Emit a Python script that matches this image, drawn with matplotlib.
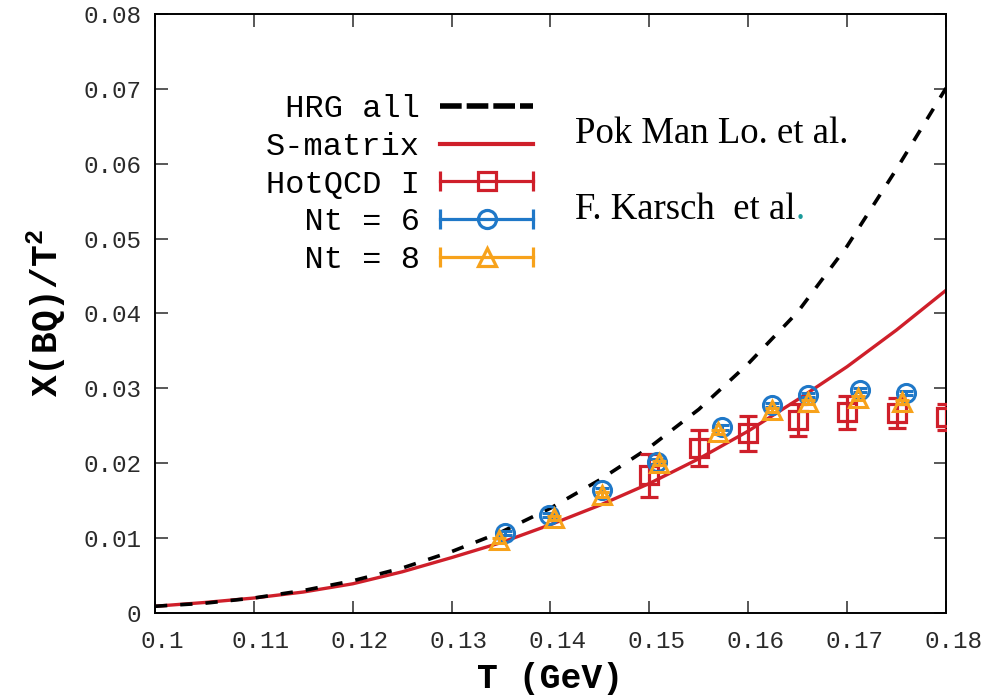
import matplotlib
matplotlib.use("Agg")
import matplotlib.pyplot as plt
import matplotlib.transforms as mtransforms
from matplotlib.lines import Line2D
from matplotlib.legend_handler import HandlerLine2D, HandlerTuple

plt.rcParams['font.family'] = ['Liberation Mono', 'DejaVu Sans Mono']
plt.rcParams['mathtext.fontset'] = 'custom'
plt.rcParams['mathtext.bf'] = 'Liberation Mono:bold'
plt.rcParams['mathtext.rm'] = 'Liberation Mono'

# HRG (all states) and S-matrix curves, chi_BQ / T^2 vs T
t_curve = [0.100, 0.105, 0.110, 0.115, 0.120, 0.125, 0.130, 0.135, 0.140,
           0.145, 0.150, 0.155, 0.160, 0.165, 0.170, 0.175, 0.180]
hrg_all = [0.0009, 0.0013, 0.0020, 0.0030, 0.0043, 0.0060, 0.0082, 0.0108, 0.0140,
           0.0178, 0.0221, 0.0272, 0.0333, 0.0402, 0.0490, 0.0593, 0.0701]
s_matrix = [0.0009, 0.0014, 0.0020, 0.0028, 0.0039, 0.0055, 0.0074, 0.0094, 0.0118,
            0.0144, 0.0173, 0.0206, 0.0243, 0.0285, 0.0329, 0.0378, 0.0431]

# HotQCD I lattice points
t_hot = [0.150, 0.155, 0.160, 0.165, 0.170, 0.175, 0.180]
chi_hot = [0.0184, 0.0220, 0.0240, 0.0258, 0.0268, 0.0267, 0.0262]
err_hot = [0.0029, 0.0024, 0.0023, 0.0021, 0.0022, 0.0020, 0.0017]

# Nt = 6
t_nt6 = [0.1354, 0.1398, 0.1452, 0.1508, 0.1573, 0.1624, 0.1660, 0.1713, 0.1760]
chi_nt6 = [0.0107, 0.0131, 0.0164, 0.0202, 0.0248, 0.0278, 0.0291, 0.0298, 0.0294]
err_nt6 = [0.0003, 0.0003, 0.0003, 0.0003, 0.0003, 0.0003, 0.0003, 0.0003, 0.0003]

# Nt = 8
t_nt8 = [0.1348, 0.1404, 0.1452, 0.1510, 0.1569, 0.1624, 0.1660, 0.1711, 0.1756]
chi_nt8 = [0.0097, 0.0127, 0.0158, 0.0200, 0.0242, 0.0271, 0.0282, 0.0287, 0.0282]
err_nt8 = [0.0003, 0.0003, 0.0003, 0.0003, 0.0003, 0.0003, 0.0003, 0.0003, 0.0003]

x_ticks = [0.10, 0.11, 0.12, 0.13, 0.14, 0.15, 0.16, 0.17, 0.18]
y_ticks = [0.0, 0.01, 0.02, 0.03, 0.04, 0.05, 0.06, 0.07, 0.08]

RED = '#cf1f2a'
BLUE = '#1f78c8'
ORANGE = '#f7a21b'

fig = plt.figure(figsize=(9.98, 7.0), dpi=100)
ax = fig.add_axes([0.1553, 0.1243, 0.7926, 0.8557])

ax.plot(t_curve, s_matrix, color=RED, lw=2.4, zorder=2)
ax.plot(t_curve, hrg_all, color='black', lw=2.6, dashes=(3.4, 3.6), zorder=3)

ax.errorbar(t_hot, chi_hot, yerr=err_hot, fmt='s', ms=13.5, mfc='none', mec=RED,
            mew=2.3, color=RED, elinewidth=2.3, capsize=6.5, capthick=2.3, zorder=4)
ax.errorbar(t_nt6, chi_nt6, yerr=err_nt6, fmt='o', ms=13, mfc='none', mec=BLUE,
            mew=2.2, color=BLUE, elinewidth=2.2, capsize=5, capthick=2.2, zorder=5)
ax.errorbar(t_nt8, chi_nt8, yerr=err_nt8, fmt='^', ms=13, mfc='none', mec=ORANGE,
            mew=2.2, color=ORANGE, elinewidth=2.2, capsize=5, capthick=2.2, zorder=6)

ax.set_xlim(0.1, 0.18)
ax.set_ylim(0, 0.08)
ax.set_xticks(x_ticks)
ax.set_yticks(y_ticks)
ax.set_xticklabels([f"{v:g}" for v in x_ticks])
ax.set_yticklabels([f"{v:g}" for v in y_ticks])
ax.tick_params(direction='in', length=9, width=1.1, top=True, right=True,
               labelsize=17.5, colors='#2a2a2a')
ax.tick_params(axis='x', pad=12)
ax.tick_params(axis='y', pad=10)
for s in ax.spines.values():
    s.set_linewidth(1.4)

# gnuplot puts the x labels a little right of the ticks
shift = mtransforms.ScaledTranslation(7 / 100, 0, fig.dpi_scale_trans)
for lab in ax.get_xticklabels():
    lab.set_transform(lab.get_transform() + shift)

ax.set_xlabel('T (GeV)', fontsize=25, fontweight='bold')
ax.xaxis.set_label_coords(0.5, -0.082)
ax.set_ylabel(r'Χ(BQ)/T$^\mathbf{2}$', fontsize=26, fontweight='bold')
ax.yaxis.set_label_coords(-0.11, 0.5)

# legend: labels on the left, horizontal bars with end caps on the right
def bar_handle(color, marker):
    caps = Line2D([], [], color=color, lw=2.3, marker='|', ms=14, mew=2.3)
    mark = Line2D([], [], ls='none', color=color, marker=marker, ms=13,
                  mfc='none', mew=2.3)
    return caps, mark

hot_caps, hot_mark = bar_handle(RED, 's')
nt6_caps, nt6_mark = bar_handle(BLUE, 'o')
nt8_caps, nt8_mark = bar_handle(ORANGE, '^')
handles = [
    Line2D([], [], color='black', lw=4, dashes=(3.9, 0.9)),
    Line2D([], [], color=RED, lw=3),
    (hot_caps, hot_mark),
    (nt6_caps, nt6_mark),
    (nt8_caps, nt8_mark),
]
labels = [' HRG all', 'S-matrix', 'HotQCD I', '  Nt = 6', '  Nt = 8']
capped = HandlerLine2D(numpoints=2, marker_pad=0)
hmap = {tuple: HandlerTuple(ndivide=1, pad=0),
        hot_caps: capped, nt6_caps: capped, nt8_caps: capped}
ax.legend(handles, labels, handler_map=hmap, loc='upper right',
          bbox_to_anchor=(0.478, 0.866), frameon=False, markerfirst=False,
          fontsize=23, handlelength=2.9, handletextpad=0.65, labelspacing=0.24,
          borderpad=0, borderaxespad=0, numpoints=1)

serif = ['Liberation Serif', 'DejaVu Serif']
fig.text(575 / 998, 1 - 143 / 700, 'Pok Man Lo. et al.', family=serif,
         fontsize=26.5, va='baseline')
karsch = fig.text(575 / 998, 1 - 219 / 700, 'F. Karsch  et al', family=serif,
                  fontsize=26.5, va='baseline')
ax.annotate('.', xy=(1, 0), xycoords=karsch, family=serif, fontsize=26.5,
            va='bottom', color='#1a9a9a')

fig.savefig('out.png', dpi=100)
